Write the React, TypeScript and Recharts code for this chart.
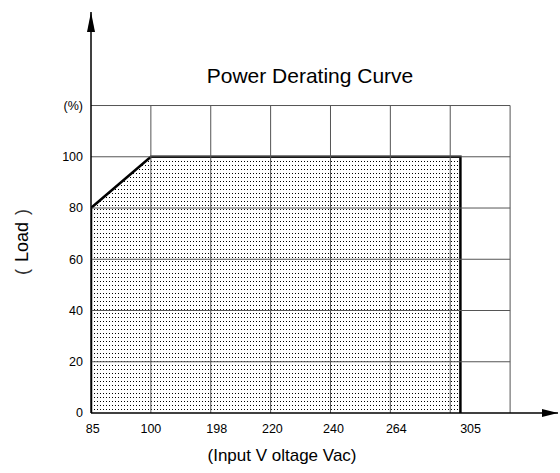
import React from 'react';
import { ComposedChart, Area, XAxis, YAxis, ReferenceLine, ReferenceDot } from 'recharts';

// outline of the derating region (x in grid units, y in % load)
const curveX = [0, 0, 1, 6.17, 6.17];
const curveY = [0, 80, 100, 100, 0];

const xTickPos = [0.03, 1, 2.1, 3.03, 4.05, 5.1, 6.34];
const xTickLabels = ['85', '100', '198', '220', '240', '264', '305'];
const yTicks = [0, 20, 40, 60, 80, 100, 120];
const yTickLabels = ['0', '20', '40', '60', '80', '100', '(%)'];
const gridCols = [1, 2, 3, 4, 5, 6, 7];
const gridRows = [20, 40, 60, 80, 100, 120];

const X_MAX = 7.8;
const Y_MAX = 156.5;
const FONT = '"Liberation Sans", Arial, "Noto Sans CJK SC", sans-serif';

const data = curveX.map((x, i) => ({ x, y: curveY[i] }));

const ArrowRight = (props: any) => {
  const { cx, cy } = props;
  return <path d={`M${cx},${cy} L${cx - 16},${cy - 4} L${cx - 16},${cy + 4} Z`} fill="#000" />;
};

const ArrowUp = (props: any) => {
  const { cx, cy } = props;
  return <path d={`M${cx},${cy} L${cx - 4},${cy + 20} L${cx + 4},${cy + 20} Z`} fill="#000" />;
};

const XTick = (props: any) => {
  const { x, y, payload } = props;
  const idx = xTickPos.indexOf(payload.value);
  return (
    <text x={x} y={y} dy="0.71em" textAnchor="middle" fontSize={12.5} fill="#000" fontFamily={FONT}>
      {xTickLabels[idx]}
    </text>
  );
};

const YTick = (props: any) => {
  const { x, y, payload } = props;
  const idx = yTicks.indexOf(payload.value);
  return (
    <text x={x} y={y} dy="0.355em" textAnchor="end" fontSize={12.5} fill="#000" fontFamily={FONT}>
      {yTickLabels[idx]}
    </text>
  );
};

export default function App() {
  return (
    <div style={{ position: 'relative', width: 560, height: 473, background: '#fff', fontFamily: FONT }}>
      <style>{`body{margin:0}`}</style>
      <div style={{ position: 'absolute', left: 0, width: 620, top: 64, textAlign: 'center', fontSize: 21, color: '#000' }}>
        Power Derating Curve
      </div>
      <div
        style={{
          position: 'absolute', left: 22, top: 242, fontSize: 18, color: '#000', whiteSpace: 'nowrap',
          transform: 'translate(-50%, -50%) rotate(-90deg)',
        }}
      >
        <span style={{ paddingRight: 7, fontWeight: 300, color: '#333' }}>(</span>Load<span style={{ paddingLeft: 7, color: '#333' }}>)</span>
      </div>
      <div style={{ position: 'absolute', left: 0, width: 564, top: 446, textAlign: 'center', fontSize: 17, color: '#000' }}>
        (Input V oltage Vac)
      </div>
      <ComposedChart width={560} height={473} data={data} margin={{ top: 12, right: 2, bottom: 0, left: 0 }}>
        <defs>
          <pattern id="dots" width="3" height="4" patternUnits="userSpaceOnUse">
            <rect x="1" y="1" width="1" height="1" fill="#000" />
          </pattern>
        </defs>
        <XAxis
          dataKey="x"
          type="number"
          domain={[0, X_MAX]}
          ticks={xTickPos}
          tick={<XTick />}
          tickLine={false}
          tickMargin={5}
          axisLine={{ stroke: '#000', strokeWidth: 1.5 }}
          height={60}
          allowDataOverflow
        />
        <YAxis
          type="number"
          domain={[0, Y_MAX]}
          ticks={yTicks}
          tick={<YTick />}
          tickLine={false}
          axisLine={{ stroke: '#000', strokeWidth: 1.5 }}
          width={91}
          allowDataOverflow
        />
        {gridCols.map((c) => (
          <ReferenceLine key={`c${c}`} segment={[{ x: c, y: 0 }, { x: c, y: 120 }]} stroke="#555" strokeWidth={1} ifOverflow="visible" />
        ))}
        {gridRows.map((r) => (
          <ReferenceLine key={`r${r}`} segment={[{ x: 0, y: r }, { x: 7, y: r }]} stroke="#555" strokeWidth={1} ifOverflow="visible" />
        ))}
        <Area
          type="linear"
          dataKey="y"
          stroke="#000"
          strokeWidth={2.5}
          fill="url(#dots)"
          fillOpacity={1}
          dot={false}
          activeDot={false}
          isAnimationActive={false}
        />
        <ReferenceDot x={X_MAX} y={0} r={1} shape={<ArrowRight />} ifOverflow="visible" />
        <ReferenceDot x={0} y={Y_MAX} r={1} shape={<ArrowUp />} ifOverflow="visible" />
      </ComposedChart>
    </div>
  );
}
